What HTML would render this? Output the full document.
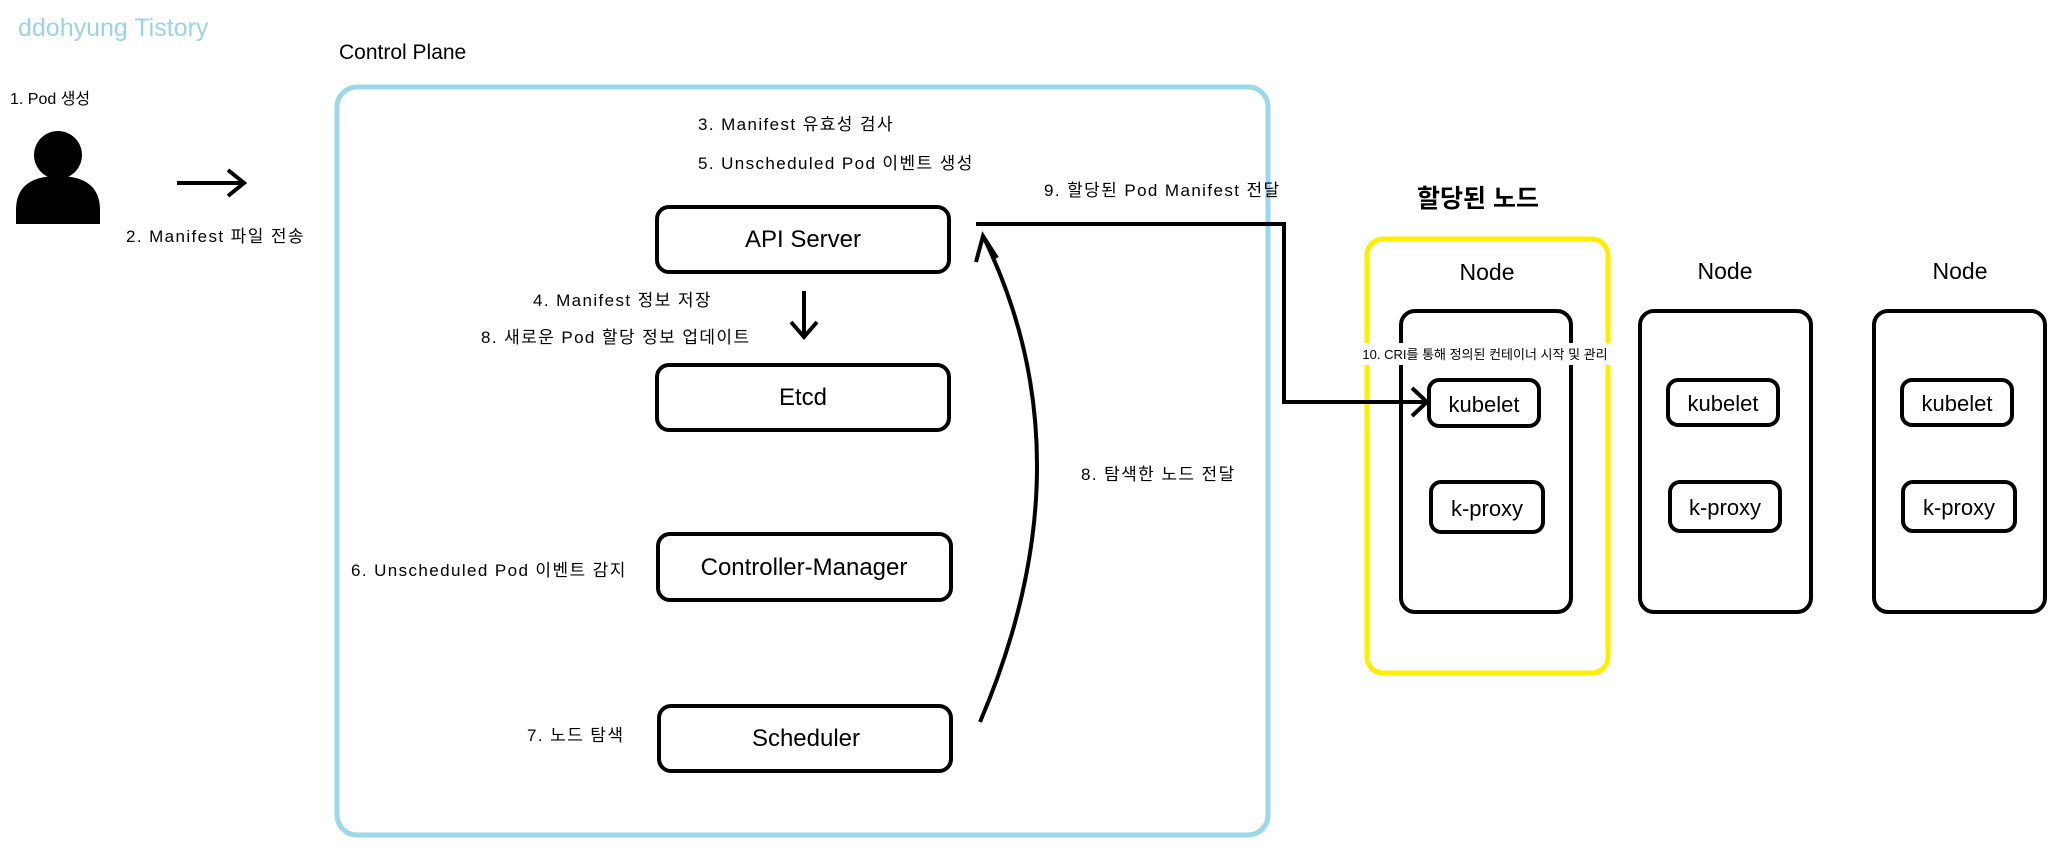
<!DOCTYPE html>
<html><head><meta charset="utf-8"><style>
html,body{margin:0;padding:0;background:#fff;}
svg{display:block;}
text{font-family:"Liberation Sans","Noto Sans CJK KR",sans-serif;fill:#000;}
.l{font-size:17px;letter-spacing:1.4px;}
</style></head><body>
<svg width="2054" height="854" viewBox="0 0 2054 854" xmlns="http://www.w3.org/2000/svg">
<text x="18" y="36" font-size="25" style="fill:#9bd3e6">ddohyung Tistory</text>
<text x="339" y="59" font-size="21">Control Plane</text>
<rect x="337" y="87" width="931" height="748" rx="20" fill="none" stroke="#9bd8e8" stroke-width="5"/>
<text x="10" y="104" font-size="16">1. Pod 생성</text>
<circle cx="58" cy="155" r="24" fill="#000"/>
<path d="M16,224 L16,210 Q16,176 58,176 Q100,176 100,210 L100,224 Z" fill="#000"/>
<line x1="177" y1="183" x2="243" y2="183" stroke="#000" stroke-width="4"/>
<path d="M228,170 L244,183 L228,196" fill="none" stroke="#000" stroke-width="4"/>
<text x="126" y="242" class="l">2. Manifest 파일 전송</text>
<text x="698" y="130" class="l">3. Manifest 유효성 검사</text>
<text x="698" y="169" class="l">5. Unscheduled Pod 이벤트 생성</text>
<g fill="none" stroke="#000" stroke-width="4">
<rect x="657" y="207" width="292" height="65" rx="12"/>
<rect x="657" y="365" width="292" height="65" rx="12"/>
<rect x="658" y="534" width="293" height="66" rx="12"/>
<rect x="659" y="706" width="292" height="65" rx="12"/>
</g>
<text x="803" y="247" font-size="24" text-anchor="middle">API Server</text>
<text x="803" y="405" font-size="24" text-anchor="middle">Etcd</text>
<text x="804" y="575" font-size="24" text-anchor="middle">Controller-Manager</text>
<text x="806" y="746" font-size="24" text-anchor="middle">Scheduler</text>
<line x1="804" y1="291" x2="804" y2="336" stroke="#000" stroke-width="4"/>
<path d="M791,322 L804,337 L817,322" fill="none" stroke="#000" stroke-width="4"/>
<text x="533" y="306" class="l">4. Manifest 정보 저장</text>
<text x="481" y="343" class="l">8. 새로운 Pod 할당 정보 업데이트</text>
<text x="351" y="576" class="l">6. Unscheduled Pod 이벤트 감지</text>
<text x="527" y="741" class="l">7. 노드 탐색</text>
<path d="M980,722 Q1092,460 984,238" fill="none" stroke="#000" stroke-width="4"/>
<path d="M976,262 L983,236 L997,258" fill="none" stroke="#000" stroke-width="4"/>
<text x="1081" y="480" class="l">8. 탐색한 노드 전달</text>
<text x="1044" y="196" class="l">9. 할당된 Pod Manifest 전달</text>
<text x="1417" y="207" font-size="25" font-weight="bold">할당된 노드</text>
<rect x="1367" y="239" width="241" height="434" rx="16" fill="none" stroke="#ffee00" stroke-width="5"/>
<g fill="none" stroke="#000" stroke-width="4">
<rect x="1401" y="311" width="170" height="301" rx="14"/>
<rect x="1640" y="311" width="171" height="301" rx="14"/>
<rect x="1874" y="311" width="171" height="301" rx="14"/>
<rect x="1429" y="380" width="110" height="46" rx="10"/>
<rect x="1431" y="482" width="112" height="50" rx="10"/>
<rect x="1668" y="380" width="110" height="45" rx="10"/>
<rect x="1670" y="482" width="110" height="49" rx="10"/>
<rect x="1902" y="380" width="110" height="45" rx="10"/>
<rect x="1903" y="482" width="112" height="49" rx="10"/>
</g>
<text x="1487" y="280" font-size="23" text-anchor="middle">Node</text>
<text x="1725" y="279" font-size="23" text-anchor="middle">Node</text>
<text x="1960" y="279" font-size="23" text-anchor="middle">Node</text>
<rect x="1350" y="343" width="270" height="22" fill="#fff"/>
<text x="1485" y="359" font-size="13" text-anchor="middle">10. CRI를 통해 정의된 컨테이너 시작 및 관리</text>
<polyline points="976,224 1284,224 1284,402 1426,402" fill="none" stroke="#000" stroke-width="4"/>
<path d="M1412,388 L1427,402 L1412,416" fill="none" stroke="#000" stroke-width="4"/>
<text x="1484" y="412" font-size="22" text-anchor="middle">kubelet</text>
<text x="1487" y="516" font-size="22" text-anchor="middle">k-proxy</text>
<text x="1723" y="411" font-size="22" text-anchor="middle">kubelet</text>
<text x="1725" y="515" font-size="22" text-anchor="middle">k-proxy</text>
<text x="1957" y="411" font-size="22" text-anchor="middle">kubelet</text>
<text x="1959" y="515" font-size="22" text-anchor="middle">k-proxy</text>
</svg>
</body></html>
